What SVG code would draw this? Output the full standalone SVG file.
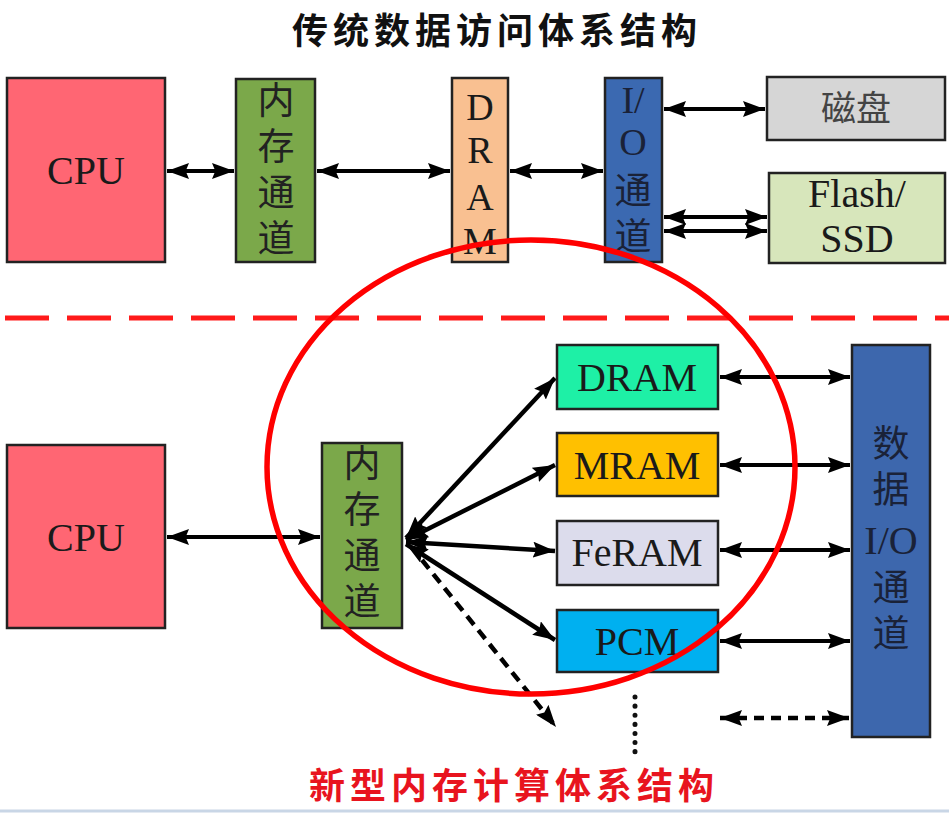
<svg xmlns="http://www.w3.org/2000/svg" width="949" height="813" viewBox="0 0 949 813">
<defs>
<style>
.box{stroke:#222;stroke-width:2.5}
.cn{font-family:"Noto Sans CJK SC",sans-serif;font-size:36px;fill:#222;text-anchor:middle}
.vt{font-family:"Noto Sans CJK SC",sans-serif;font-size:37px;fill:#222;writing-mode:vertical-rl;letter-spacing:9px}
.en{font-family:"Liberation Serif",serif;font-size:40px;fill:#1a1a1a;text-anchor:middle}
.ln{stroke:#000;stroke-width:4;fill:none}
.fan{stroke:#000;stroke-width:4.5;fill:none}
</style>
<marker id="ah" viewBox="0 0 10 10" refX="10" refY="5" markerWidth="22" markerHeight="16" markerUnits="userSpaceOnUse" orient="auto-start-reverse" preserveAspectRatio="none">
<path d="M0,0 L10,5 L0,10 L1.5,5 z" fill="#000"/>
</marker>
</defs>
<rect width="949" height="813" fill="#fff"/>
<line x1="0" y1="811" x2="949" y2="811" stroke="#c9d6e6" stroke-width="3"/>

<text x="497" y="44" style="font-family:'Noto Sans CJK SC',sans-serif;font-size:36px;font-weight:700;fill:#111;text-anchor:middle;letter-spacing:5px">传统数据访问体系结构</text>

<g id="connectors">
<line class="ln" x1="167" y1="171" x2="234" y2="171" marker-start="url(#ah)" marker-end="url(#ah)"/>
<line class="ln" x1="317" y1="171" x2="450" y2="171" marker-start="url(#ah)" marker-end="url(#ah)"/>
<line class="ln" x1="510" y1="171" x2="603" y2="171" marker-start="url(#ah)" marker-end="url(#ah)"/>
<line class="ln" x1="664" y1="109" x2="765" y2="109" marker-start="url(#ah)" marker-end="url(#ah)"/>
<line class="ln" x1="664" y1="217" x2="767" y2="217" marker-start="url(#ah)" marker-end="url(#ah)"/>
<line class="ln" x1="664" y1="231" x2="767" y2="231" marker-start="url(#ah)" marker-end="url(#ah)"/>

<line class="ln" x1="167" y1="537" x2="320" y2="537" marker-start="url(#ah)" marker-end="url(#ah)"/>
<line class="fan" x1="406" y1="538" x2="555" y2="378" marker-start="url(#ah)" marker-end="url(#ah)"/>
<line class="fan" x1="406" y1="540" x2="555" y2="465" marker-start="url(#ah)" marker-end="url(#ah)"/>
<line class="fan" x1="406" y1="542" x2="555" y2="551" marker-start="url(#ah)" marker-end="url(#ah)"/>
<line class="fan" x1="406" y1="544" x2="555" y2="640" marker-start="url(#ah)" marker-end="url(#ah)"/>
<line class="fan" x1="422" y1="560" x2="556" y2="727" stroke-dasharray="11,7" marker-end="url(#ah)"/>

<line class="ln" x1="720" y1="377" x2="850" y2="377" marker-start="url(#ah)" marker-end="url(#ah)"/>
<line class="ln" x1="720" y1="465" x2="850" y2="465" marker-start="url(#ah)" marker-end="url(#ah)"/>
<line class="ln" x1="720" y1="550" x2="850" y2="550" marker-start="url(#ah)" marker-end="url(#ah)"/>
<line class="ln" x1="720" y1="641" x2="850" y2="641" marker-start="url(#ah)" marker-end="url(#ah)"/>
<line class="fan" x1="720" y1="718" x2="849" y2="718" stroke-dasharray="10,7" marker-start="url(#ah)" marker-end="url(#ah)"/>
<line x1="635" y1="697" x2="635" y2="758" stroke="#111" stroke-width="5" stroke-linecap="round" stroke-dasharray="0.1,9"/>
</g>

<g id="cpu-top"><rect class="box" x="7" y="78" width="158" height="184" fill="#ff6673"/><text class="en" x="86" y="184">CPU</text></g>
<g id="memch-top"><rect class="box" x="236" y="79" width="79" height="183" fill="#7ba84a"/>
<text class="vt" x="276" y="81">内存通道</text></g>
<g id="dram-top"><rect class="box" x="452" y="78" width="56" height="184" fill="#f9c091"/>
<text class="en" x="480" y="120" style="font-size:38px">D</text><text class="en" x="480" y="163" style="font-size:38px">R</text><text class="en" x="480" y="210" style="font-size:38px">A</text><text class="en" x="480" y="254" style="font-size:38px">M</text></g>
<g id="io-top"><rect class="box" x="605" y="78" width="57" height="184" fill="#3b69b1"/>
<text class="en" x="633" y="113" style="fill:#1a2238;font-size:38px">I/</text><text class="en" x="633" y="155" style="fill:#1a2238;font-size:38px">O</text><text class="vt" x="633" y="171" style="fill:#1a2238">通道</text></g>
<g id="disk"><rect class="box" x="767" y="77" width="178" height="63" fill="#d6d6d6"/><text class="cn" x="856" y="121" style="fill:#444;font-size:35px">磁盘</text></g>
<g id="flash"><rect class="box" x="769" y="173" width="176" height="90" fill="#d7e6bb"/><text class="en" x="857" y="207">Flash/</text><text class="en" x="857" y="252">SSD</text></g>

<line x1="5" y1="318" x2="949" y2="318" stroke="#ff1a1a" stroke-width="5" stroke-dasharray="44,18"/>

<g id="cpu-bottom"><rect class="box" x="7" y="445" width="158" height="183" fill="#ff6673"/><text class="en" x="86" y="551">CPU</text></g>
<g id="memch-bottom"><rect class="box" x="322" y="443" width="80" height="185" fill="#7ba84a"/>
<text class="vt" x="362" y="444">内存通道</text></g>
<g id="dram"><rect class="box" x="557" y="345" width="161" height="64" fill="#1ef0a6"/><text class="en" x="637" y="391">DRAM</text></g>
<g id="mram"><rect class="box" x="557" y="433" width="161" height="63" fill="#ffc000"/><text class="en" x="637" y="479">MRAM</text></g>
<g id="feram"><rect class="box" x="557" y="521" width="161" height="64" fill="#dcdcec"/><text class="en" x="637" y="566">FeRAM</text></g>
<g id="pcm"><rect class="box" x="557" y="610" width="161" height="62" fill="#00b0f0"/><text class="en" x="637" y="655">PCM</text></g>
<g id="data-io"><rect class="box" x="852" y="345" width="78" height="392" fill="#3d67ad"/>
<text class="vt" x="891" y="424" style="fill:#1a2238">数据</text><text class="en" x="891" y="554" style="fill:#1a2238">I/O</text><text class="vt" x="891" y="568" style="fill:#1a2238">通道</text></g>

<ellipse cx="531" cy="467" rx="264" ry="227" fill="none" stroke="#ff0000" stroke-width="5.5"/>

<text x="514" y="799" style="font-family:'Noto Sans CJK SC',sans-serif;font-size:36px;font-weight:700;fill:#e8141e;text-anchor:middle;letter-spacing:5px">新型内存计算体系结构</text>
</svg>
